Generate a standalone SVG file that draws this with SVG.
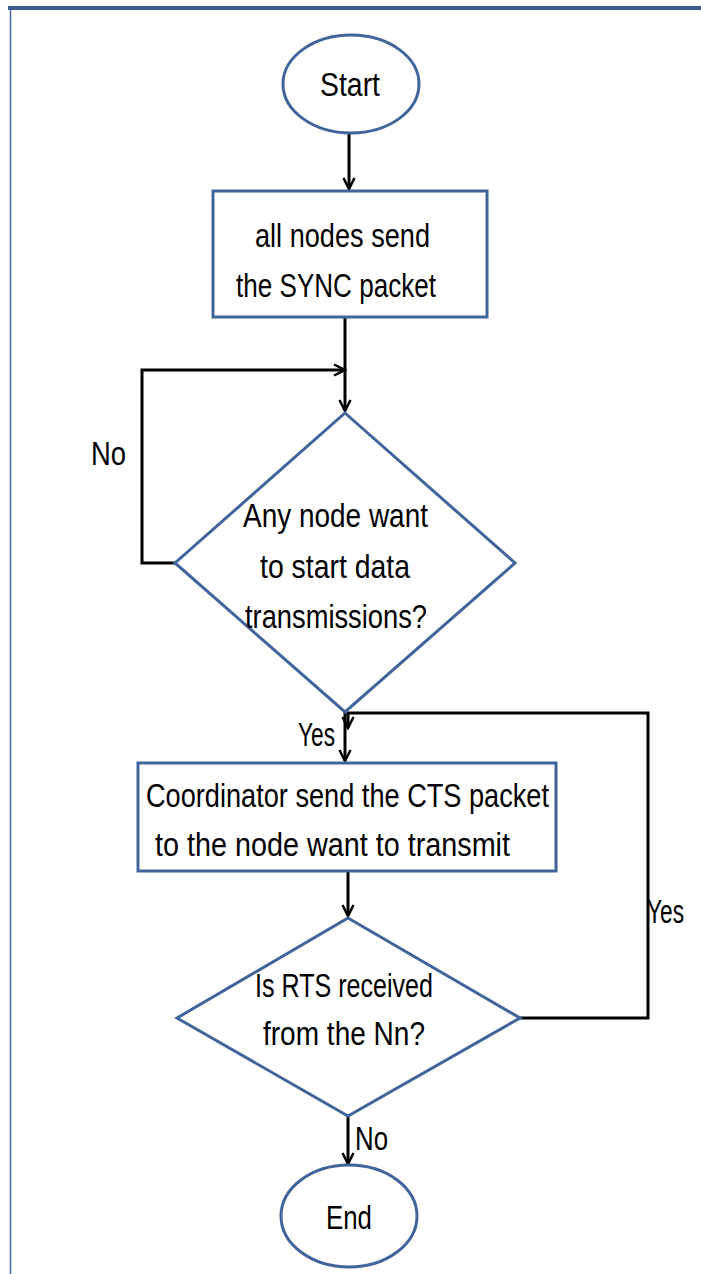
<svg xmlns="http://www.w3.org/2000/svg" width="701" height="1274" viewBox="0 0 701 1274">
<style>
.shape{fill:#ffffff;stroke:#41659a;stroke-width:3}
.conn{fill:none;stroke:#000000;stroke-width:3}
text{font-family:"Liberation Sans",Arial,sans-serif;font-size:33px;fill:#000000}
</style>
<defs>
<marker id="arr" markerWidth="14" markerHeight="14" refX="12" refY="7" orient="auto" markerUnits="userSpaceOnUse">
<path d="M1,1.5 L12,7 L1,12.5" fill="none" stroke="#000" stroke-width="2.5"/>
</marker>
</defs>
<rect x="0" y="0" width="701" height="1274" fill="#ffffff"/>
<g id="frame">
<rect x="8" y="6" width="693" height="4" fill="#3b5d8c"/>
<line x1="10.5" y1="10" x2="10.5" y2="1274" stroke="#4a6a9a" stroke-width="1.5"/>
</g>
<g id="connectors">
<path class="conn" d="M349,134 L349,189" marker-end="url(#arr)"/>
<path class="conn" d="M345,317 L345,411" marker-end="url(#arr)"/>
<path class="conn" d="M175,563 L142,563 L142,370 L345,370" marker-end="url(#arr)"/>
<path class="conn" d="M345,712 L345,761" marker-end="url(#arr)"/>
<path class="conn" d="M348,872 L348,916" marker-end="url(#arr)"/>
<path class="conn" d="M520,1018 L648,1018 L648,713 L348,713 L348,728" marker-end="url(#arr)"/>
<path class="conn" d="M348,1116 L348,1164" marker-end="url(#arr)"/>
</g>
<g id="start">
<ellipse class="shape" cx="351" cy="84" rx="68" ry="49"/>
<text x="350" y="96" text-anchor="middle" textLength="60" lengthAdjust="spacingAndGlyphs">Start</text>
</g>
<g id="sync">
<rect class="shape" x="213" y="191" width="274" height="126"/>
<text x="255" y="247" textLength="175" lengthAdjust="spacingAndGlyphs">all nodes send</text>
<text x="236" y="297" textLength="200" lengthAdjust="spacingAndGlyphs">the SYNC packet</text>
</g>
<g id="decision1">
<polygon class="shape" points="345,413 515,563 345,712 175,563"/>
<text x="243" y="527" textLength="185" lengthAdjust="spacingAndGlyphs">Any node want</text>
<text x="260" y="578" textLength="150" lengthAdjust="spacingAndGlyphs">to start data</text>
<text x="245" y="628" textLength="182" lengthAdjust="spacingAndGlyphs">transmissions?</text>
</g>
<g id="label-no1">
<text x="91" y="465" textLength="35" lengthAdjust="spacingAndGlyphs">No</text>
</g>
<g id="label-yes1">
<text x="298" y="746" textLength="37" lengthAdjust="spacingAndGlyphs">Yes</text>
</g>
<g id="cts">
<rect class="shape" x="138" y="763" width="418" height="108"/>
<text x="146" y="807" textLength="403" lengthAdjust="spacingAndGlyphs">Coordinator send the CTS packet</text>
<text x="155" y="856" textLength="355" lengthAdjust="spacingAndGlyphs">to the node want to transmit</text>
</g>
<g id="decision2">
<polygon class="shape" points="348,918 520,1018 348,1116 177,1018"/>
<text x="255" y="997" textLength="178" lengthAdjust="spacingAndGlyphs">Is RTS received</text>
<text x="263" y="1045" textLength="162" lengthAdjust="spacingAndGlyphs">from the Nn?</text>
</g>
<g id="label-yes2">
<text x="647" y="923" textLength="37" lengthAdjust="spacingAndGlyphs">Yes</text>
</g>
<g id="label-no2">
<text x="355" y="1150" textLength="33" lengthAdjust="spacingAndGlyphs">No</text>
</g>
<g id="end">
<ellipse class="shape" cx="349" cy="1216" rx="68" ry="51"/>
<text x="349" y="1229" text-anchor="middle" textLength="46" lengthAdjust="spacingAndGlyphs">End</text>
</g>
</svg>
